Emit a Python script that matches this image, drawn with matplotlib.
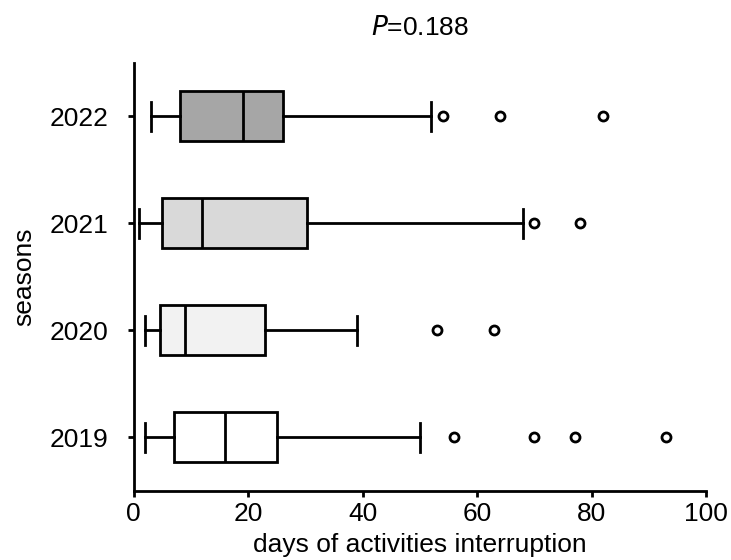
import matplotlib
matplotlib.use("Agg")
import matplotlib.pyplot as plt

plt.rcParams['font.family'] = ['Liberation Sans', 'DejaVu Sans']

seasons = ["2019", "2020", "2021", "2022"]
whislo = [2.0, 2.0, 1.0, 3.0]
q1 = [7.0, 4.6, 5.0, 8.0]
med = [16.0, 9.0, 12.0, 19.0]
q3 = [25.0, 23.0, 30.3, 26.0]
whishi = [50.0, 39.0, 68.0, 52.0]
fliers = [[56, 70, 77, 93], [53, 63], [70, 78], [54, 64, 82]]
colors = ["#ffffff", "#f2f2f2", "#d9d9d9", "#a6a6a6"]

fig = plt.figure(figsize=(7.31, 5.6), dpi=100)
ax = fig.add_axes([0.183, 0.124, 0.783, 0.764])

stats = []
for i in range(len(seasons)):
    stats.append(dict(label=seasons[i], whislo=whislo[i], q1=q1[i], med=med[i],
                      q3=q3[i], whishi=whishi[i], fliers=fliers[i]))

lw = 2.0
bp = ax.bxp(stats, positions=range(1, len(seasons) + 1), vert=False, widths=0.47,
            patch_artist=True, capwidths=0.27,
            boxprops=dict(linewidth=lw, edgecolor='black'),
            medianprops=dict(linewidth=lw, color='black'),
            whiskerprops=dict(linewidth=lw, color='black'),
            capprops=dict(linewidth=lw, color='black'),
            flierprops=dict(marker='o', markersize=6.5, markerfacecolor='white',
                            markeredgecolor='black', markeredgewidth=2.0, linestyle='none'))
for patch, c in zip(bp['boxes'], colors):
    patch.set_facecolor(c)

ax.set_xlim(0, 100)
ax.set_ylim(0.5, 4.5)
ax.set_xticks([0, 20, 40, 60, 80, 100])
ax.set_yticks(range(1, len(seasons) + 1))
ax.set_yticklabels(seasons)
ax.spines['top'].set_visible(False)
ax.spines['right'].set_visible(False)
ax.spines['left'].set_linewidth(2)
ax.spines['bottom'].set_linewidth(2)
ax.tick_params(axis='both', width=2, length=4, labelsize=19, direction='out')
ax.tick_params(axis='x', pad=4)
ax.tick_params(axis='y', pad=14)
ax.set_xlabel("days of activities interruption", fontsize=19, labelpad=5)
ax.set_ylabel("seasons", fontsize=19, labelpad=10)
ax.set_title(r"$\it{P}$=0.188", fontsize=19, pad=20)

fig.savefig("out.png", dpi=100)
